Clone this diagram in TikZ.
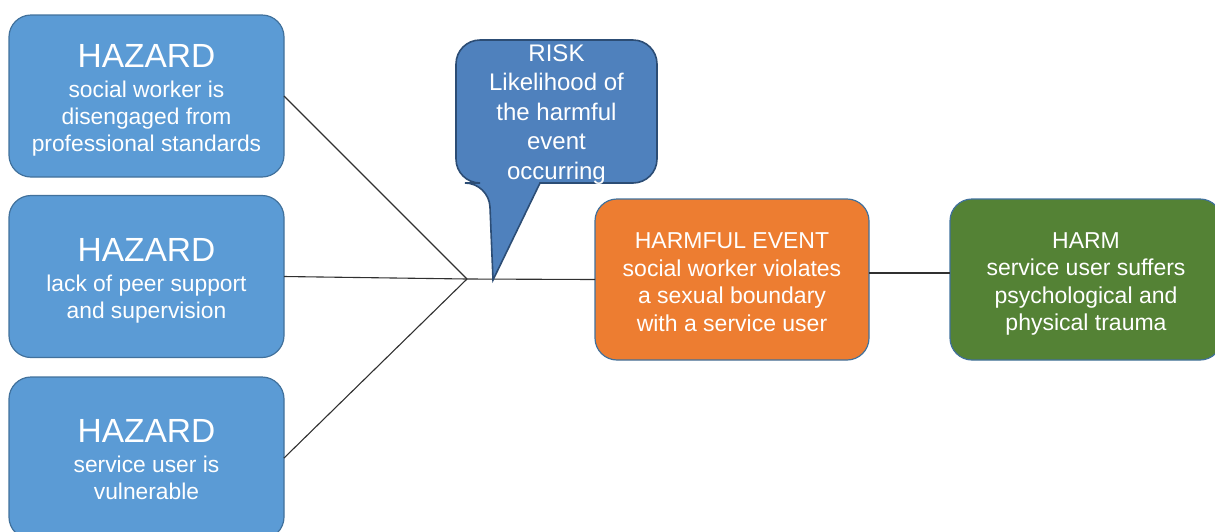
\documentclass[tikz,border=0pt]{standalone}
\usepackage{fontspec}
\setmainfont{Liberation Sans}
\definecolor{hazardblue}{HTML}{5B9BD5}
\definecolor{edgeblue}{HTML}{41719C}
\definecolor{riskblue}{HTML}{4F81BD}
\definecolor{riskedge}{HTML}{2C4D75}
\definecolor{eventorange}{HTML}{ED7D31}
\definecolor{harmgreen}{HTML}{548235}
\definecolor{linkgray}{HTML}{303030}
\tikzset{
  card/.style={rounded corners=22pt, draw=edgeblue, line width=1.2pt,
    minimum width=275pt, minimum height=162pt, inner sep=0pt, outer sep=0pt},
  hazard/.style={card, fill=hazardblue},
  event/.style={card, fill=eventorange, minimum width=274pt, minimum height=161pt},
  harm/.style={card, fill=harmgreen, minimum width=272pt, minimum height=161pt},
  cardtext/.style={text=white, align=center, inner sep=0pt, font=\fontsize{22.8}{27}\selectfont},
  boxtext/.style={text=white, align=center, inner sep=0pt, font=\fontsize{23}{27.5}\selectfont},
  callout/.style={fill=riskblue, draw=riskedge, line width=1.6pt},
  link/.style={draw=linkgray, line width=1.1pt}
}
\newcommand{\hz}{{\fontsize{33.5}{37}\selectfont HAZARD}\\[3pt]}
\begin{document}
\begin{tikzpicture}[x=1pt, y=-1pt]
  \useasboundingbox (0,0) rectangle (1215,531);
  \clip (0,0) rectangle (1215,531);

  % hazard boxes and their captions
  \node[hazard] (h1) at (146.5,96)  {};
  \node[hazard] (h2) at (146.5,276.5) {};
  \node[hazard] (h3) at (146.5,458) {};
  \node[cardtext] (h1t) at ([yshift=-4.5pt]h1.center) {\hz social worker is\\disengaged from\\professional standards};
  \node[cardtext] (h2t) at ([yshift=-4pt]h2.center) {\hz lack of peer support\\and supervision};
  \node[cardtext] (h3t) at ([yshift=-2pt]h3.center) {\hz service user is\\vulnerable};

  % event and outcome
  \node[event] (ev) at (732,279.5) {};
  \node[harm] (hm) at (1086,279.5) {};
  \node[boxtext] (evt) at ([yshift=-2.5pt]ev.center) {HARMFUL EVENT\\social worker violates\\a sexual boundary\\with a service user};
  \node[boxtext] (hmt) at ([yshift=-4.5pt]hm.center) {HARM\\service user suffers\\psychological and\\physical trauma};

  % converging links
  \coordinate (j) at (467,279);
  \draw[link] (h1.east) -- (j);
  \draw[link] (h3.east) -- (j);
  \draw[link] (h2.east) -- (j) -- (ev.west);
  \draw[link] ([yshift=6.5pt]ev.east) -- ([yshift=6.5pt]hm.west);

  % risk speech bubble
  \draw[callout, rounded corners=24pt]
    (600,183) -- (657,183) -- (657,40) -- (456,40) -- (456,183) -- (489,183)
    [sharp corners] -- (493,280) -- (540,183) -- cycle;
  \node[text=white, align=center, inner sep=0pt, font=\fontsize{24}{29.5}\selectfont] (risk) at (556.5,114.5)
    {RISK\\Likelihood of\\the harmful\\event\\occurring};
\end{tikzpicture}
\end{document}
